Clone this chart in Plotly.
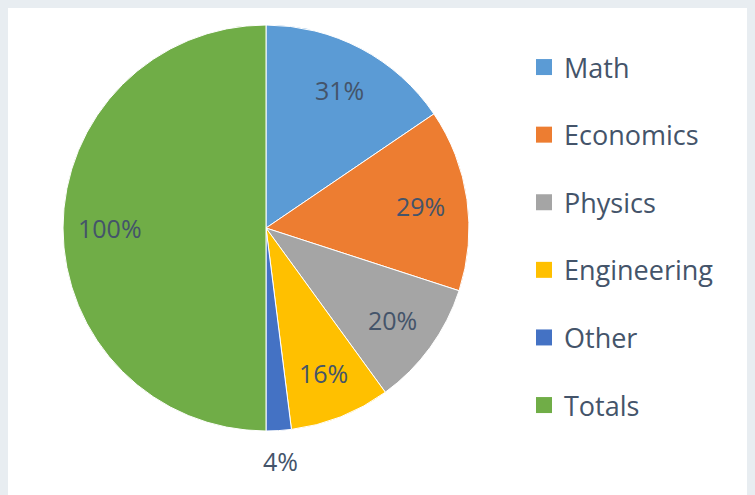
import math
import plotly.graph_objects as go

categories = ["Math", "Economics", "Physics", "Engineering", "Other", "Totals"]
values = [31, 29, 20, 16, 4, 100]
colors = ["#5b9bd5", "#ed7d31", "#a5a5a5", "#ffc000", "#4472c4", "#70ad47"]
label_outside = [False, False, False, False, True, False]

W, H = 755, 495
OFF = 8  # page offset of the plot inside the browser page
LABEL_FONT = "'Open Sans', Lato, sans-serif"
TXT = "#44546a"

# pie geometry (pixels in the final picture)
CX, CY, R = 266 - OFF, 228 - OFF, 203

fig = go.Figure()
fig.add_trace(go.Pie(
    labels=categories, values=values, sort=False, direction="clockwise", rotation=0,
    marker=dict(colors=colors, line=dict(color="white", width=1)),
    textinfo="none", showlegend=False, hoverinfo="label+value",
    domain=dict(x=[(CX - R) / W, (CX + R) / W], y=[1 - (CY + R) / H, 1 - (CY - R) / H]),
))

# data labels placed at the middle angle of each slice
total = sum(values)
cum = 0
for v, out in zip(values, label_outside):
    mid = (cum + v / 2) / total * 2 * math.pi
    cum += v
    rr = R + 30 if out else 0.77 * R
    px = CX + rr * math.sin(mid)
    py = CY - rr * math.cos(mid)
    fig.add_annotation(x=px / W, y=1 - py / H, xref="paper", yref="paper",
                       xanchor="center", yanchor="middle",
                       text=f"{v}%", showarrow=False,
                       font=dict(family=LABEL_FONT, size=25, color=TXT))

# legend entries
for c, col in zip(categories, colors):
    fig.add_trace(go.Scatter(
        x=[None], y=[None], mode="markers", name=c, legendgroup=c,
        marker=dict(symbol="square", size=16, color=col),
        showlegend=True,
    ))

fig.update_layout(
    width=W, height=H, margin=dict(l=0, r=0, t=0, b=0),
    paper_bgcolor="white", plot_bgcolor="white",
    xaxis=dict(visible=False), yaxis=dict(visible=False),
    legend=dict(x=(524 - OFF) / W, y=1 - (43 - OFF) / H, xanchor="left", yanchor="top",
                traceorder="grouped", tracegroupgap=29.5,
                font=dict(family=LABEL_FONT, size=27, color=TXT),
                bgcolor="rgba(0,0,0,0)"),
)

fig.write_html("out.html", post_script="document.body.style.background='#e8edf1';")
